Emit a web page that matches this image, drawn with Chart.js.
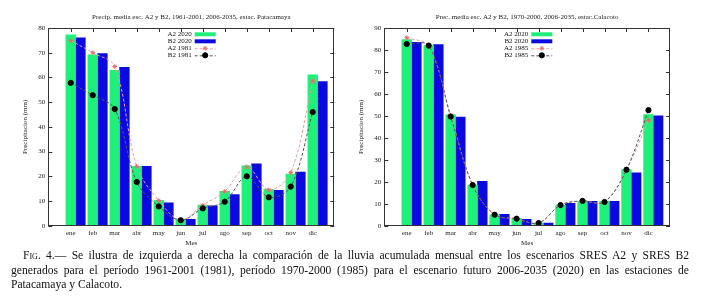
<!DOCTYPE html>
<html>
<head>
<meta charset="utf-8">
<script src="https://cdn.jsdelivr.net/npm/chart.js@4.4.1/dist/chart.umd.min.js"></script>
<style>
  body { margin: 0; background: #fff; width: 711px; height: 296px; overflow: hidden; position: relative; }
  .box { position: absolute; top: 0; height: 250px; }
  .cap { position: absolute; font-family: "Liberation Serif", serif; font-size: 11.6px; color: #111; white-space: nowrap; }
  .just { text-align: justify; text-align-last: justify; white-space: normal; }
  .sc { font-variant: small-caps; }
</style>
</head>
<body>
<div class="box" style="left:0;width:355px"><canvas id="pat" width="355" height="250"></canvas></div>
<div class="box" style="left:355px;width:356px"><canvas id="cal" width="356" height="250"></canvas></div>
<div class="cap just" style="left:23px;top:249px;width:666px"><span class="sc">Fig</span>. 4.— Se ilustra de izquierda a derecha la comparación de la lluvia acumulada mensual entre los escenarios SRES A2 y SRES B2</div>
<div class="cap just" style="left:11px;top:264px;width:678px">generados para el período 1961-2001 (1981), período 1970-2000 (1985) para el escenario futuro 2006-2035 (2020) en las estaciones de</div>
<div class="cap" style="left:11px;top:278px">Patacamaya y Calacoto.</div>
<script>
const MONTHS = ['ene', 'feb', 'mar', 'abr', 'may', 'jun', 'jul', 'ago', 'sep', 'oct', 'nov', 'dic'];

// Patacamaya
const PAT_A2_2020 = [77.2, 69.1, 62.9, 24.0, 10.3, 2.7, 8.3, 13.9, 24.2, 14.7, 20.9, 61.0];
const PAT_B2_2020 = [76.0, 69.6, 64.1, 24.0, 9.3, 2.6, 8.0, 12.6, 25.0, 14.3, 21.7, 58.3];
const PAT_A2_1981 = [74.9, 70.0, 64.4, 24.0, 10.2, 2.3, 8.3, 13.9, 23.8, 14.5, 21.5, 58.5];
const PAT_B2_1981 = [57.8, 52.8, 47.2, 17.7, 7.8, 2.2, 7.0, 9.7, 20.0, 11.5, 15.8, 46.0];

// Calacoto
const CAL_A2_2020 = [84.7, 82.0, 50.6, 18.5, 5.0, 3.2, 1.2, 9.4, 11.1, 11.1, 25.5, 50.6];
const CAL_B2_2020 = [83.5, 82.4, 49.5, 20.2, 5.2, 2.9, 1.2, 10.2, 11.1, 11.1, 24.1, 50.0];
const CAL_A2_1985 = [85.6, 81.8, 50.3, 18.5, 5.0, 3.2, 1.2, 9.4, 11.1, 10.9, 25.5, 48.0];
const CAL_B2_1985 = [82.7, 82.0, 49.7, 18.5, 5.0, 3.2, 1.2, 9.4, 11.3, 10.8, 25.5, 52.6];

const PAT_Y_MAX = 80;
const CAL_Y_MAX = 90;
const Y_STEP = 10;

const GREEN = '#1ef07a';
const BLUE = '#0a0ae0';
const BAR_W = 9.7;
const BLUE_SHIFT = 0.44;   // blue bar sits just right of the green one
const SERIF = '"Liberation Serif", "DejaVu Serif", serif';

const pts = (vals, shift) => vals.map((v, i) => ({ x: i + (shift || 0), y: v }));

// gnuplot-style frame with inward ticks on all four sides
const frameTicks = {
  id: 'frameTicks',
  beforeDatasetsDraw(chart) {
    const { ctx, chartArea: a, scales: { x, y } } = chart;
    ctx.save();
    ctx.strokeStyle = '#333';
    ctx.lineWidth = 1;
    ctx.beginPath();
    y.ticks.forEach(t => {
      const py = Math.round(y.getPixelForValue(t.value)) + 0.5;
      ctx.moveTo(a.left, py); ctx.lineTo(a.left + 4, py);
      ctx.moveTo(a.right, py); ctx.lineTo(a.right - 4, py);
    });
    x.ticks.forEach(t => {
      const px = Math.round(x.getPixelForValue(t.value)) + 0.5;
      ctx.moveTo(px, a.top); ctx.lineTo(px, a.top + 4);
      ctx.moveTo(px, a.bottom); ctx.lineTo(px, a.bottom - 4);
    });
    ctx.stroke();
    ctx.restore();
  },
  afterDatasetsDraw(chart) {
    const { ctx, chartArea: a } = chart;
    ctx.save();
    ctx.strokeStyle = '#333';
    ctx.lineWidth = 1;
    ctx.strokeRect(Math.round(a.left) + 0.5, Math.round(a.top) + 0.5,
      Math.round(a.width) - 1, Math.round(a.height) - 1);
    ctx.restore();
  }
};

// key drawn like gnuplot: label on the left, sample on the right
const keyBox = {
  id: 'keyBox',
  afterDraw(chart, args, opts) {
    const { ctx } = chart;
    ctx.save();
    ctx.font = '7px ' + SERIF;
    ctx.textAlign = 'right';
    ctx.textBaseline = 'middle';
    chart.data.datasets.forEach((ds, i) => {
      const cy = opts.top + i * opts.row;
      const x0 = opts.textRight + 3, x1 = x0 + 21;
      ctx.fillStyle = '#111';
      ctx.fillText(ds.label, opts.textRight, cy);
      if (ds.type === 'bar') {
        ctx.fillStyle = ds.backgroundColor;
        ctx.fillRect(x0, cy - 2, x1 - x0, 4);
      } else {
        ctx.strokeStyle = ds.borderColor;
        ctx.lineWidth = 1;
        ctx.setLineDash(ds.borderDash);
        ctx.beginPath(); ctx.moveTo(x0, cy + 0.5); ctx.lineTo(x1, cy + 0.5); ctx.stroke();
        ctx.setLineDash([]);
        ctx.fillStyle = ds.pointBackgroundColor;
        ctx.strokeStyle = ds.pointBorderColor;
        Chart.helpers.drawPoint(ctx, { pointStyle: ds.pointStyle, radius: ds.pointRadius, borderWidth: 1 }, (x0 + x1) / 2, cy);
      }
    });
    ctx.restore();
  }
};

function makeChart(id, cfg) {
  const datasets = [
    { type: 'bar', label: 'A2 2020', data: pts(cfg.a2), backgroundColor: GREEN, barThickness: BAR_W, grouped: false, order: 2 },
    { type: 'bar', label: 'B2 2020', data: pts(cfg.b2, BLUE_SHIFT), backgroundColor: BLUE, barThickness: BAR_W, grouped: false, order: 2 },
    { type: 'line', label: cfg.lblA, data: pts(cfg.a2old), borderColor: '#f29a9a', borderWidth: 1, borderDash: [3, 2],
      tension: 0.35, pointStyle: 'star', pointRadius: 2.3, pointBorderWidth: 1, pointBorderColor: '#ee6a6a', pointBackgroundColor: '#ee6a6a', order: 1 },
    { type: 'line', label: cfg.lblB, data: pts(cfg.b2old), borderColor: '#555', borderWidth: 1, borderDash: [3, 2],
      tension: 0.35, pointStyle: 'circle', pointRadius: 2.6, pointBorderColor: '#000', pointBackgroundColor: '#000', order: 0 }
  ];

  return new Chart(document.getElementById(id), {
    type: 'bar',
    data: { datasets },
    plugins: [frameTicks, keyBox],
    options: {
      responsive: false,
      animation: false,
      layout: { padding: { left: 0, right: cfg.padRight, top: 0, bottom: 0 } },
      plugins: {
        legend: { display: false },
        tooltip: { enabled: false },
        title: {
          display: true, text: cfg.title, fullSize: false, color: '#222',
          font: { family: SERIF, size: 7, weight: 'normal', lineHeight: 1.2 },
          padding: { top: 13, bottom: 6.6 }
        },
        keyBox: cfg.key
      },
      scales: {
        x: {
          type: 'linear', min: -1.02, max: 11.98, offset: false,
          grid: { display: false, drawTicks: false }, border: { display: false },
          afterBuildTicks: s => { s.ticks = MONTHS.map((m, i) => ({ value: i })); },
          afterFit: s => { s.height = 24.3; },
          ticks: {
            autoSkip: false, maxRotation: 0, padding: 3.5, color: '#222',
            font: { family: SERIF, size: 7 },
            callback: v => MONTHS[v]
          },
          title: { display: true, text: 'Mes', color: '#222', font: { family: SERIF, size: 7 }, padding: { top: 0, bottom: 3.1 } }
        },
        y: {
          min: 0, max: cfg.yMax,
          grid: { display: false, drawTicks: false }, border: { display: false },
          afterFit: s => { s.width = cfg.yWidth; },
          ticks: { stepSize: Y_STEP, padding: 3, color: '#222', font: { family: SERIF, size: 7 } },
          title: { display: true, text: 'Precipitacion (mm)', color: '#222', font: { family: SERIF, size: 7 }, padding: { top: cfg.yTitlePad, bottom: 0 } }
        }
      }
    }
  });
}

makeChart('pat', {
  title: 'Precip. media esc. A2 y B2, 1961-2001, 2006-2035, estac. Patacamaya',
  a2: PAT_A2_2020, b2: PAT_B2_2020, a2old: PAT_A2_1981, b2old: PAT_B2_1981,
  lblA: 'A2 1981', lblB: 'B2 1981',
  yMax: PAT_Y_MAX, yWidth: 48.3, padRight: 20.7, yTitlePad: 21.3,
  key: { textRight: 191.7, top: 34.3, row: 7 }
});

makeChart('cal', {
  title: 'Prec. media esc. A2 y B2, 1970-2000, 2006-2035, estac.Calacoto',
  a2: CAL_A2_2020, b2: CAL_B2_2020, a2old: CAL_A2_1985, b2old: CAL_B2_1985,
  lblA: 'A2 1985', lblB: 'B2 1985',
  yMax: CAL_Y_MAX, yWidth: 29.3, padRight: 41, yTitlePad: 1.5,
  key: { textRight: 173.3, top: 34.3, row: 7 }
});
</script>
</body>
</html>
